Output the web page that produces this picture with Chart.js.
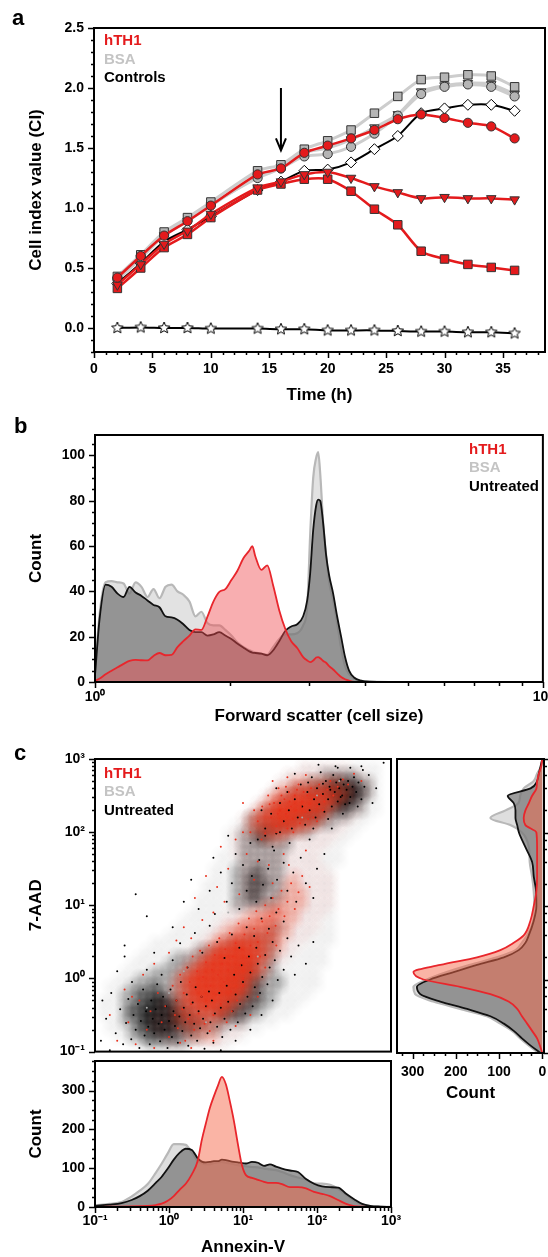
<!DOCTYPE html>
<html>
<head>
<meta charset="utf-8">
<script src="https://cdn.jsdelivr.net/npm/chart.js@4.4.1/dist/chart.umd.min.js"></script>
<style>
  html, body { margin: 0; padding: 0; background: #fff; }
  body { position: relative; width: 548px; height: 1257px; overflow: hidden; }
  canvas { position: absolute; left: 0; }
  .txt { position: absolute; font: bold 15px 'Liberation Sans', Arial, sans-serif; line-height: 18px; white-space: nowrap; }
  .letter { position: absolute; font: bold 22px 'Liberation Sans', Arial, sans-serif; line-height: 24px; }
</style>
</head>
<body>
<canvas id="chartA" width="560" height="410" style="top:0px"></canvas>
<canvas id="chartB" width="560" height="330" style="top:400px"></canvas>
<canvas id="chartDots" width="560" height="330" style="top:740px"></canvas>
<canvas id="chartSide" width="560" height="370" style="top:740px"></canvas>
<canvas id="chartAnx" width="560" height="220" style="top:1040px"></canvas>

<div class="letter" style="left:12px;top:6px">a</div>
<div class="txt" style="left:104px;top:31px;color:#e41a1c">hTH1</div>
<div class="txt" style="left:104px;top:50px;color:#c4c4c4">BSA</div>
<div class="txt" style="left:104px;top:68px;color:#000">Controls</div>

<div class="letter" style="left:14px;top:414px">b</div>
<div class="txt" style="left:469px;top:440px;color:#e41a1c">hTH1</div>
<div class="txt" style="left:469px;top:458px;color:#c4c4c4">BSA</div>
<div class="txt" style="left:469px;top:477px;color:#000">Untreated</div>

<div class="letter" style="left:14px;top:741px">c</div>
<div class="txt" style="left:104px;top:764px;color:#e41a1c">hTH1</div>
<div class="txt" style="left:104px;top:782px;color:#c4c4c4">BSA</div>
<div class="txt" style="left:104px;top:801px;color:#000">Untreated</div>

<script>
// ---------- panel a: cell index over time ----------
const hours = [2, 4, 6, 8, 10, 14, 16, 18, 20, 22, 24, 26, 28, 30, 32, 34, 36];
const hth1Circle = [0.42, 0.60, 0.77, 0.89, 1.02, 1.28, 1.33, 1.46, 1.52, 1.58, 1.65, 1.74, 1.78, 1.75, 1.71, 1.68, 1.58];
const hth1Tri = [0.36, 0.53, 0.70, 0.81, 0.95, 1.17, 1.22, 1.28, 1.30, 1.25, 1.18, 1.13, 1.08, 1.09, 1.08, 1.08, 1.07];
const hth1Square = [0.33, 0.50, 0.67, 0.78, 0.92, 1.15, 1.20, 1.24, 1.24, 1.14, 0.99, 0.86, 0.64, 0.575, 0.53, 0.505, 0.48];
const bsaSquare = [0.43, 0.61, 0.80, 0.92, 1.05, 1.31, 1.36, 1.49, 1.56, 1.65, 1.79, 1.93, 2.07, 2.09, 2.11, 2.10, 2.01];
const bsaCircle = [0.41, 0.59, 0.78, 0.90, 1.03, 1.25, 1.33, 1.43, 1.45, 1.51, 1.62, 1.77, 1.95, 2.01, 2.03, 2.01, 1.93];
const bsaTri = [0.40, 0.58, 0.77, 0.89, 1.02, 1.26, 1.34, 1.46, 1.50, 1.57, 1.67, 1.78, 1.97, 2.02, 2.04, 2.03, 1.95];
const ctrlDiamond = [0.37, 0.54, 0.72, 0.82, 0.93, 1.15, 1.22, 1.31, 1.32, 1.38, 1.49, 1.60, 1.79, 1.83, 1.86, 1.86, 1.81];
const ctrlStar = [0.0, 0.005, 0.0, 0.0, -0.005, -0.005, -0.01, -0.01, -0.02, -0.02, -0.02, -0.025, -0.03, -0.03, -0.035, -0.035, -0.045];
const timeTicks = [0, 5, 10, 15, 20, 25, 30, 35];
const ciTicks = [0, 0.5, 1, 1.5, 2, 2.5];

// ---------- panel b: forward scatter histogram ----------
const fsc = [1.00, 1.024, 1.056, 1.089, 1.123, 1.158, 1.194, 1.232, 1.270, 1.310, 1.351, 1.393, 1.437, 1.482, 1.528, 1.575, 1.625, 1.676, 1.728, 1.782,
  1.838, 1.895, 1.954, 2.016, 2.078, 2.143, 2.211, 2.245, 2.280, 2.351, 2.424, 2.500, 2.578, 2.659, 2.742, 2.828, 2.916, 2.977, 3.023, 3.070,
  3.118, 3.150, 3.183, 3.232, 3.281, 3.333, 3.402, 3.472, 3.544, 3.617, 3.692, 3.788, 3.927, 4.092, 4.533, 6.167, 10.0];
const fscUntreated = [3, 28, 43, 42, 39, 37.5, 42, 39.5, 38, 36, 34, 33, 29, 28.5, 27.5, 25.5, 23, 22, 22, 20.5,
  21, 22, 20.5, 19, 17, 15.2, 13.5, 13, 12.8, 12.5, 11.8, 14, 18, 22.5, 24.5, 25.5, 29, 36, 48, 67,
  78, 80.5, 80, 70, 56, 47, 39, 29, 20, 11, 5, 2, 0.6, 0.1, 0, 0, 0];
const fscBsa = [4, 30, 44, 44.5, 44, 43.5, 39, 44, 42, 37.5, 41, 37, 42, 43, 40, 38.5, 35.5, 29, 31, 26,
  25, 25, 23, 20.5, 17.5, 15.5, 14, 13.5, 13, 12.5, 12, 15.5, 19, 21, 21, 21.5, 25, 33, 65, 90,
  99, 101.5, 92, 70, 56, 44, 36, 26, 15, 7, 3.5, 1.5, 0.5, 0.2, 0, 0, 0];
const fscHth1 = [0.5, 1.5, 3.4, 5, 6.5, 8, 9.3, 9.8, 9.6, 9.5, 11.5, 12.8, 11.8, 12, 15.4, 18, 20.5, 23.2, 23, 28.7,
  35.5, 39.8, 41, 45, 49, 54.5, 58, 60, 55.5, 49.5, 51.5, 42.5, 31.7, 23.5, 18, 15, 11, 9.5, 8.8, 9.5,
  10.8, 11, 10.5, 9.3, 8.5, 7, 5.5, 3.8, 2.2, 1.2, 0.6, 0.1, 0, 0, 0, 0, 0];
const countTicksB = [0, 20, 40, 60, 80, 100];

// ---------- panel c: Annexin-V histogram ----------
const anx = [0.102, 0.158, 0.229, 0.313, 0.402, 0.516, 0.662, 0.798, 0.962, 1.16, 1.398, 1.686, 2.033, 2.451, 2.777, 3.145, 3.563, 4.036, 4.573, 5.18,
  5.868, 6.648, 7.531, 8.531, 9.665, 10.95, 13.2, 15.92, 19.19, 23.14, 27.9, 33.63, 43.16, 55.39, 71.08, 91.24, 117.1, 150.2, 192.9, 247.4,
  317.5, 407.5, 522.9, 714.2, 975.4];
const anxUntreated = [3, 6, 10, 18, 28, 42, 62, 78, 99, 122, 140, 150, 147, 125, 117, 115, 116, 118, 118, 122,
  121, 118, 116, 115, 113, 112, 116, 114, 106, 110, 104, 99, 94, 90, 72, 60, 53, 51, 50, 34, 20, 8, 3, 1, 0.3];
const anxBsa = [4, 8, 13, 27, 42, 59, 88, 112, 138, 162, 162, 160, 140, 118, 113, 110, 110, 113, 115, 116,
  114, 112, 110, 108, 106, 105, 103, 102, 99, 97, 95, 90, 82, 76, 70, 61, 60, 57, 47, 32, 16, 6, 2.5, 1, 0.5];
const anxHth1 = [0.5, 0.7, 1, 1.5, 2, 2.6, 5, 8.5, 16, 28, 45, 60, 84, 120, 173, 215, 255, 285, 312, 335,
  316, 272, 222, 162, 108, 82, 75, 70, 65, 62, 62, 59, 51, 51, 48, 39, 34, 28, 18, 8, 2.5, 0.6, 0, 0, 0];
const countTicksAnx = [0, 100, 200, 300];

// ---------- panel c: 7-AAD histogram (side) ----------
const aad = [1000, 794, 631, 501, 398, 316, 251, 200, 158, 126, 100, 63.1, 39.8, 25.1, 15.8, 10, 6.31, 3.98, 3.16, 2.51,
  2.0, 1.58, 1.26, 1.0, 0.794, 0.631, 0.501, 0.398, 0.316, 0.251, 0.2, 0.158, 0.126, 0.1];
const aadUntreated = [0, 4, 8, 12, 27, 80, 66, 62, 62, 58, 54, 39, 23.5, 19.7, 14.3, 13.6, 19.7, 31.3, 39, 54.5,
  89, 151, 205, 259, 290, 282, 236, 174, 120, 89, 66, 47, 27, 4];
const aadBsa = [0, 2.6, 12, 19.7, 43, 51, 55, 85, 120, 74, 47, 31, 29, 23.5, 19.7, 18.2, 21, 35, 47, 62,
  105, 167, 221, 267, 298, 294, 252, 190, 128, 97, 70, 51, 31, 8];
const aadHth1 = [0, 2.6, 8, 12, 13.6, 23.5, 31, 39, 43, 39, 13.6, 12, 12, 12, 13.6, 19.7, 27.4, 43, 66, 97,
  151, 236, 298, 275, 190, 120, 78, 58, 47, 35, 23.5, 12, 5.5, 0];
const countTicksSide = [0, 100, 200, 300];
const decades = [0.1, 1, 10, 100, 1000];

// ---------- panel c: dot plot ----------
// density of events on a 0.1-decade grid: [log10 7-AAD, first log10 Annexin-V cell, levels 1..5 per cell]
const untreatedDensityRows = [
  [-0.9, -0.5, [1,1,2,2,2,2,2,2,1,1,1,1,1,1]],
  [-0.8, -0.7, [1,1,2,2,3,3,3,3,3,2,2,2,1,1,1,1,1,1]],
  [-0.7, -0.8, [1,1,1,2,3,3,4,4,4,3,3,3,2,2,2,2,1,1,1,1,1]],
  [-0.6, -0.8, [1,1,2,2,3,4,4,4,4,4,3,3,3,2,2,2,2,2,2,1,1,1,1]],
  [-0.5, -0.9, [1,1,1,2,3,3,4,4,4,4,4,3,3,2,2,2,3,3,3,3,2,2,1,1,1,1]],
  [-0.4, -0.9, [1,1,1,2,3,3,4,4,4,4,3,3,2,2,2,2,3,3,3,3,3,2,2,1,1,1,1]],
  [-0.3, -0.9, [1,1,1,2,2,3,3,4,4,3,3,2,2,2,2,2,2,3,3,3,3,3,2,2,1,1,1,1]],
  [-0.2, -0.8, [1,1,2,2,3,3,3,3,2,2,2,2,2,2,2,2,3,3,3,3,3,2,2,1,1,1,1,1]],
  [-0.1, -0.8, [1,1,1,2,2,2,3,2,2,2,2,2,2,2,2,2,3,3,3,3,3,2,2,2,1,1,1,1,1]],
  [0.0, -0.7, [1,1,1,2,2,2,2,2,2,2,2,2,2,2,2,3,3,3,3,3,2,2,2,1,1,1,1,1]],
  [0.1, -0.6, [1,1,1,1,2,2,2,2,2,2,2,2,2,2,2,3,3,3,2,2,2,1,1,1,1,1,1]],
  [0.2, -0.5, [1,1,1,1,1,2,2,2,2,2,2,2,2,2,2,3,3,2,2,2,1,1,1,1,1,1,1]],
  [0.3, -0.4, [1,1,1,1,1,2,2,2,2,2,2,2,2,2,2,2,2,2,2,1,1,1,1,1,1,1]],
  [0.4, -0.3, [1,1,1,1,1,1,1,2,2,2,2,2,2,2,2,2,2,2,1,1,1,1,1,1,1]],
  [0.5, -0.2, [1,1,1,1,1,1,1,1,1,1,2,2,2,2,2,2,2,1,1,1,1,1,1,1,1]],
  [0.6, 0.0, [1,1,1,1,1,1,1,1,1,1,1,2,2,2,2,1,1,1,1,1,1,1,1]],
  [0.7, 0.1, [1,1,1,1,1,1,1,1,1,1,1,1,1,2,2,1,1,1,1,1,1,1]],
  [0.8, 0.2, [1,1,1,1,1,1,1,1,1,1,1,1,1,1,1,1,1,1,1,1,1]],
  [0.9, 0.3, [1,1,1,1,1,1,1,1,1,1,1,1,1,1,1,1,1,1,1,1]],
  [1.0, 0.4, [1,1,1,1,1,2,2,2,2,2,2,1,1,1,1,1,1,1,1]],
  [1.1, 0.4, [1,1,1,1,1,2,2,3,3,2,2,2,1,1,1,1,1,1,1]],
  [1.2, 0.5, [1,1,1,1,2,2,3,3,2,2,2,1,1,1,1,1,1,1]],
  [1.3, 0.5, [1,1,1,1,2,2,3,3,3,2,2,1,1,1,1,1,1,1]],
  [1.4, 0.6, [1,1,1,2,2,3,3,2,2,2,1,1,1,1,1,1,1]],
  [1.5, 0.6, [1,1,1,2,2,2,3,2,2,2,1,1,1,1,1,1,1]],
  [1.6, 0.7, [1,1,1,2,2,2,2,2,2,1,1,1,1,1,1,1,1]],
  [1.7, 0.7, [1,1,1,2,2,2,2,2,2,1,1,1,1,1,1,1,1]],
  [1.8, 0.8, [1,1,2,2,2,2,2,2,2,1,1,1,1,1,1,1]],
  [1.9, 0.8, [1,1,2,2,3,3,2,2,2,1,1,1,1,1,1,1,1]],
  [2.0, 0.8, [1,1,2,2,3,3,3,2,2,2,2,2,1,1,1,1,1,1]],
  [2.1, 0.9, [1,1,2,2,3,3,3,3,2,2,2,2,2,2,1,1,1,1]],
  [2.2, 1.0, [1,2,2,2,2,3,3,3,3,3,3,2,2,2,2,1,1,1]],
  [2.3, 1.1, [1,1,2,2,2,2,3,3,3,3,3,3,3,3,2,2,1,1]],
  [2.4, 1.2, [1,1,1,2,2,2,2,3,3,3,3,4,4,3,2,1,1]],
  [2.5, 1.3, [1,1,1,2,2,2,3,3,3,4,4,4,4,3,2,1]],
  [2.6, 1.4, [1,1,1,2,2,2,3,3,4,4,4,4,3,2,1]],
  [2.7, 1.5, [1,1,1,1,2,2,2,3,3,3,3,2,2,1]],
  [2.8, 1.6, [1,1,1,1,1,2,2,2,2,2,1,1,1]],
  [2.9, 1.8, [1,1,1,1,1,1,1,1,1,1,1]]
];
const hth1DensityRows = [
  [-0.9, 0.0, [1,1,1,1,1,1,1,1]],
  [-0.8, -0.1, [1,1,1,1,2,2,2,2,1,1,1]],
  [-0.7, -0.2, [1,1,1,1,2,2,2,2,2,1,1,1,1]],
  [-0.6, -0.2, [1,1,1,2,2,3,3,3,2,2,1,1,1]],
  [-0.5, -0.2, [1,1,1,2,3,3,3,3,3,3,2,1,1,1]],
  [-0.4, -0.1, [1,1,2,3,3,4,4,4,4,3,2,1,1]],
  [-0.3, -0.1, [1,1,2,3,4,4,5,5,4,4,3,2,1,1]],
  [-0.2, 0.0, [1,2,3,4,5,5,5,5,5,4,3,2,1]],
  [-0.1, 0.0, [1,2,3,4,5,5,5,5,5,5,4,2,1,1]],
  [0.0, 0.1, [2,3,4,5,5,5,5,5,5,4,3,2,1]],
  [0.1, 0.1, [1,2,3,4,5,5,5,5,5,5,4,3,2,1]],
  [0.2, 0.2, [1,2,3,4,5,5,5,5,5,4,3,2,1,1]],
  [0.3, 0.2, [1,1,2,3,4,5,5,5,5,5,4,3,2,1,1]],
  [0.4, 0.3, [1,1,2,3,4,4,5,5,4,4,3,2,2,1,1]],
  [0.5, 0.4, [1,1,2,3,3,4,4,4,4,3,3,2,1,1,1]],
  [0.6, 0.5, [1,1,2,2,3,3,3,3,3,3,2,2,1,1,1]],
  [0.7, 0.6, [1,1,2,2,3,3,3,3,3,2,2,1,1,1,1]],
  [0.8, 0.7, [1,1,1,2,2,3,3,3,2,2,2,1,1,1]],
  [0.9, 0.8, [1,1,1,2,2,2,3,3,2,2,1,1,1,1]],
  [1.0, 0.9, [1,1,1,1,2,2,2,2,2,2,1,1,1,1]],
  [1.1, 1.0, [1,1,1,1,1,2,2,2,2,1,1,1,1]],
  [1.2, 1.0, [1,1,1,1,1,1,2,2,2,1,1,1,1]],
  [1.3, 1.0, [1,1,1,1,1,1,2,2,1,1,1,1,1]],
  [1.4, 1.0, [1,1,1,1,1,1,1,2,1,1,1,1,1]],
  [1.5, 1.0, [1,1,1,1,1,1,1,1,1,1,1,1]],
  [1.6, 1.0, [1,1,1,1,1,1,1,1,1,1,1]],
  [1.7, 0.9, [1,1,1,1,1,1,1,1,1,1,1,1]],
  [1.8, 0.9, [1,1,1,1,1,1,1,1,1,1,1,1,1]],
  [1.9, 0.9, [1,1,1,1,2,2,2,1,1,1,1,1,1,1]],
  [2.0, 0.9, [1,1,2,2,3,3,3,3,2,2,1,1,1,1,1]],
  [2.1, 1.0, [1,2,3,3,4,4,4,4,3,3,2,1,1,1,1]],
  [2.2, 1.0, [1,2,3,4,4,5,5,4,4,3,3,2,1,1,1,1]],
  [2.3, 1.1, [1,2,3,4,5,5,5,5,4,4,3,2,1,1,1,1]],
  [2.4, 1.2, [1,2,3,4,4,5,5,5,4,4,3,2,1,1,1]],
  [2.5, 1.3, [1,2,3,3,4,4,4,4,4,3,3,2,1,1,1]],
  [2.6, 1.4, [1,2,2,3,3,3,3,3,3,2,2,1,1,1]],
  [2.7, 1.5, [1,1,2,2,2,2,2,2,2,1,1,1,1]],
  [2.8, 1.6, [1,1,1,1,1,1,1,1,1,1,1]],
  [2.9, 1.8, [1,1,1,1,1,1,1]]
];
// scattered single events, pairs of [log10 Annexin-V, log10 7-AAD]
const untreatedDotsLog = [
  [-0.85,-0.55],[-0.78,-0.2],[-0.72,-0.75],[-0.66,-0.42],[-0.62,-0.9],[-0.58,-0.61],[-0.55,-0.28],[-0.51,-0.83],[-0.48,-0.5],[-0.45,-0.7],
  [-0.42,-0.35],[-0.4,-0.95],[-0.38,-0.58],[-0.35,-0.15],[-0.33,-0.78],[-0.31,-0.45],[-0.28,-0.66],[-0.26,-0.9],[-0.24,-0.3],[-0.22,-0.55],
  [-0.2,-0.75],[-0.18,-0.42],[-0.16,-0.08],[-0.14,-0.62],[-0.12,-0.86],[-0.1,-0.5],[-0.08,-0.25],[-0.06,-0.7],[-0.04,-0.38],[-0.02,-0.95],
  [0.0,-0.58],[0.02,-0.15],[0.04,-0.8],[0.06,-0.45],[0.08,-0.65],[0.1,-0.3],[0.12,-0.88],[0.14,-0.52],[0.16,-0.05],[0.18,-0.72],
  [0.2,-0.4],[0.22,-0.6],[0.24,-0.22],[0.26,-0.92],[0.28,-0.5],[0.3,-0.78],[0.32,-0.33],[0.34,-0.62],[0.36,-0.12],[0.38,-0.85],
  [0.4,-0.45],[0.42,-0.68],[0.44,-0.25],[0.46,-0.55],[0.48,-0.96],[0.5,-0.38],[0.52,-0.75],[0.54,-0.18],[0.56,-0.6],[0.58,-0.3],
  [0.6,-0.88],[0.62,-0.48],[0.65,-0.66],[0.68,-0.2],[0.7,-0.4],[0.72,-0.8],[0.75,-0.55],[0.78,-0.1],[0.8,-0.32],[0.83,-0.7],
  [0.86,-0.45],[0.88,0.05],[0.9,-0.22],[0.93,-0.6],[0.96,-0.35],[0.98,0.18],[1.0,-0.05],[1.03,-0.48],[1.06,-0.25],[1.08,0.3],
  [1.1,0.08],[1.13,-0.38],[1.16,-0.12],[1.18,0.42],[1.2,0.2],[1.23,-0.2],[1.26,0.02],[1.3,0.32],[1.33,-0.08],[1.36,0.15],
  [1.4,0.5],[1.43,0.25],[1.47,-0.02],[1.5,0.38],[1.55,0.12],[1.6,0.55],[1.65,0.3],[1.7,0.05],[1.75,0.45],[1.85,0.2],
  [1.95,0.5],[-0.7,0.1],[-0.6,0.3],[-0.5,-0.05],[-0.3,0.12],[-0.2,0.35],[-0.1,0.05],[0.05,0.25],[0.15,0.48],[0.25,0.15],
  [0.35,0.62],[0.45,0.35],[0.55,0.72],[0.65,0.5],[0.75,0.28],[0.85,0.6],[0.95,0.42],[1.05,0.7],[1.15,0.58],[1.25,0.82],
  [1.35,0.68],[1.45,0.9],[1.55,0.78],[-0.92,-0.85],[-0.8,-0.98],[0.7,-0.98],[0.9,-0.85],[1.1,-0.7],[1.25,-0.5],[1.4,-0.3],[-0.9,-0.3],
  [0.4,0.95],[0.55,1.2],[0.62,0.88],[0.7,1.45],[0.78,1.05],[0.85,1.3],[0.9,1.7],[0.95,0.95],[1.0,1.55],[1.05,1.2],
  [1.1,1.85],[1.12,1.4],[1.18,1.05],[1.22,1.62],[1.27,1.28],[1.3,1.95],[1.34,1.5],[1.38,1.1],[1.42,1.75],[1.46,1.35],
  [1.5,2.0],[1.55,1.58],[1.6,1.2],[1.63,1.85],[1.68,1.45],[1.72,1.05],[1.78,1.65],[1.85,1.3],[1.9,1.9],[2.0,1.5],
  [0.3,1.35],[-0.45,1.15],[0.05,0.7],[-0.3,0.85],[0.6,1.65],[0.8,1.95],[1.95,1.1],[2.1,1.7],[-0.6,0.45],[0.2,1.05],
  [1.3,2.05],[1.38,2.25],[1.45,1.98],[1.5,2.4],[1.55,2.15],[1.6,2.55],[1.62,2.3],[1.66,2.05],[1.7,2.45],[1.74,2.2],
  [1.78,2.65],[1.8,2.35],[1.84,2.1],[1.87,2.55],[1.9,2.3],[1.93,2.75],[1.96,2.45],[1.98,2.2],[2.0,2.6],[2.03,2.38],
  [2.05,2.82],[2.08,2.52],[2.1,2.28],[2.12,2.7],[2.15,2.45],[2.17,2.62],[2.2,2.35],[2.22,2.78],[2.24,2.55],[2.26,2.68],
  [2.28,2.42],[2.3,2.6],[2.32,2.72],[2.34,2.5],[2.36,2.65],[2.38,2.38],[2.4,2.58],[2.42,2.7],[2.45,2.48],[2.48,2.62],
  [2.5,2.75],[2.53,2.55],[2.56,2.68],[2.6,2.45],[2.64,2.62],[2.7,2.78],[2.02,2.92],[2.25,2.9],[2.45,2.88],[1.45,2.6],
  [1.7,2.8],[1.25,2.3],[2.15,2.18],[2.35,2.25],[1.95,2.05],[2.55,2.35],[2.62,2.85],[2.8,2.6],[2.9,2.95],[2.75,2.4],
  [1.2,1.9],[1.4,1.8],[2.2,2.05],[2.28,2.88],[2.44,2.4],[2.08,2.66],[2.18,2.58],[2.32,2.48],[1.88,2.68],[2.6,2.9]
];
const hth1DotsLog = [
  [-0.7,-0.85],[-0.55,-0.6],[-0.45,-0.9],[-0.4,-0.3],[-0.3,-0.7],[-0.25,-0.45],[-0.2,-0.95],[-0.15,-0.2],[-0.1,-0.6],[-0.05,-0.38],
  [0.0,-0.8],[0.05,-0.1],[0.08,-0.5],[0.1,-0.3],[0.12,-0.68],[0.15,0.05],[0.18,-0.42],[0.2,-0.2],[0.22,-0.85],[0.24,0.15],
  [0.26,-0.55],[0.28,-0.05],[0.3,-0.35],[0.32,0.3],[0.34,-0.7],[0.36,-0.15],[0.38,0.1],[0.4,-0.48],[0.42,0.38],[0.44,-0.25],
  [0.46,0.02],[0.48,-0.62],[0.5,0.22],[0.52,-0.38],[0.54,0.45],[0.56,-0.1],[0.58,0.12],[0.6,-0.5],[0.62,0.32],[0.64,-0.22],
  [0.66,0.05],[0.68,0.55],[0.7,-0.35],[0.72,0.2],[0.74,-0.05],[0.76,0.4],[0.78,-0.6],[0.8,0.12],[0.82,0.62],[0.84,-0.18],
  [0.86,0.3],[0.88,0.02],[0.9,0.48],[0.92,-0.3],[0.94,0.75],[0.96,0.18],[0.98,0.4],[1.0,-0.1],[1.02,0.6],[1.05,0.28],
  [1.08,0.82],[1.1,0.45],[1.12,0.1],[1.15,0.68],[1.18,0.92],[1.2,0.5],[1.23,0.3],[1.26,0.78],[1.3,1.0],[1.33,0.62],
  [1.36,0.85],[1.4,1.1],[1.44,0.72],[1.48,0.95],[1.52,1.2],[1.56,0.85],[1.6,1.05],[1.65,1.3],[1.7,0.95],[1.75,1.18],
  [1.8,1.4],[1.9,1.25],[-0.6,-0.15],[-0.35,0.05],[-0.2,0.2],[0.0,0.35],[0.1,0.52],[0.2,0.7],[0.3,0.55],[0.45,0.8],
  [0.6,0.9],[0.75,1.05],[1.0,0.0],[1.2,-0.25],[0.9,-0.65],[0.6,-0.85],[0.3,-0.95],[1.3,0.15],[1.45,0.45],[-0.8,-0.5],
  [-0.5,-0.25],[0.15,-0.88],[0.55,-0.72],[0.85,-0.45],[1.1,-0.5],
  [0.65,1.25],[0.8,1.5],[0.95,1.15],[1.05,1.7],[1.15,1.35],[1.25,1.9],[1.35,1.55],[1.45,2.0],[1.55,1.7],[1.0,2.0],
  [0.7,1.8],[1.62,1.55],[0.5,1.4],[1.2,1.6],[1.85,1.75],[0.35,1.1],[1.4,1.3],[0.9,1.9],
  [1.2,2.15],[1.26,2.35],[1.3,1.98],[1.34,2.5],[1.38,2.2],[1.42,2.4],[1.45,2.08],[1.48,2.6],[1.5,2.3],[1.53,2.15],
  [1.56,2.45],[1.58,2.25],[1.6,2.05],[1.62,2.55],[1.65,2.35],[1.67,2.18],[1.7,2.5],[1.72,2.3],[1.75,2.65],[1.77,2.12],
  [1.8,2.42],[1.82,2.55],[1.85,2.28],[1.87,2.5],[1.9,2.38],[1.92,2.6],[1.95,2.2],[1.98,2.48],[2.0,2.35],[2.03,2.65],
  [2.06,2.5],[2.1,2.42],[2.14,2.58],[2.18,2.7],[2.22,2.5],[2.28,2.62],[2.35,2.72],[2.42,2.65],[1.1,2.0],[1.15,2.3],
  [1.4,2.7],[1.6,2.75],[1.85,2.78],[2.0,2.15],[1.68,2.0],[1.52,2.5],[1.78,2.35],[1.63,2.42],[1.73,2.58],[1.88,2.18],
  [1.58,2.62],[1.93,2.45],[2.08,2.3],[1.47,2.25],[1.36,2.38],[2.5,2.8],[2.6,2.7],[1.0,2.4]
];
const bsaDotsLog = [
  [0.0,-0.2],[0.5,-0.6],[1.2,0.3],[2.0,2.5],[1.8,2.2],[-0.3,-0.4],[0.8,0.9],[2.3,2.7],[1.5,1.5],[0.2,0.1]
];

// ---------- helpers ----------
const FONT = "'Liberation Sans', Arial, Helvetica, sans-serif";
const tickFont = { family: FONT, size: 14, weight: 'bold' };
const titleFont = { family: FONT, size: 17, weight: 'bold' };
const SUP = { '-1': '10\u207B\u00B9', '0': '10\u2070', '1': '10\u00B9', '2': '10\u00B2', '3': '10\u00B3' };
const powLabel = v => SUP[Math.round(Math.log10(v))];

function range(a, b, step) {
  const out = [];
  for (let i = Math.round(a / step); i <= Math.round(b / step); i++) out.push(Math.round(i * step * 1000) / 1000);
  return out;
}
function logMinors(lo, hi) {
  const out = [];
  for (let d = lo; d < hi; d++) for (let k = 2; k <= 9; k++) out.push(k * Math.pow(10, d));
  return out;
}

function axis(o) {
  return {
    type: o.type || 'linear',
    position: o.position,
    reverse: !!o.reverse,
    min: o.min, max: o.max,
    grid: { display: false, drawTicks: false },
    border: { display: false },
    ticks: {
      display: o.labels !== false, color: '#000', font: tickFont, padding: o.pad || 9,
      maxRotation: 0, autoSkip: false, callback: o.fmt || (v => v)
    },
    title: o.title ? { display: true, text: o.title, color: '#000', font: titleFont, padding: o.titlePad } : { display: false },
    afterBuildTicks: sc => { sc.ticks = o.ticks.map(v => ({ value: v })); },
    afterFit: sc => { if (o.width != null) sc.width = o.width; else sc.height = o.height; }
  };
}

// frame, tick marks and the arrow
function decor(spec) {
  return {
    id: 'decor',
    afterDraw(chart) {
      const { ctx, chartArea: a } = chart;
      ctx.save();
      ctx.strokeStyle = '#000';
      (spec.marks || []).forEach(m => {
        const sc = chart.scales[m.axis];
        ctx.lineWidth = m.w || 1.5;
        m.values.forEach(v => {
          const p = Math.round(sc.getPixelForValue(v)) + 0.5;
          ctx.beginPath();
          if (m.edge === 'bottom') { ctx.moveTo(p, a.bottom); ctx.lineTo(p, a.bottom + m.len); }
          if (m.edge === 'left') { ctx.moveTo(a.left, p); ctx.lineTo(a.left - m.len, p); }
          if (m.edge === 'right') { ctx.moveTo(a.right, p); ctx.lineTo(a.right + m.len, p); }
          ctx.stroke();
        });
      });
      if (spec.arrow) {
        const sx = chart.scales.x, sy = chart.scales.y;
        const x = sx.getPixelForValue(spec.arrow.x);
        const y1 = sy.getPixelForValue(spec.arrow.y1), y2 = sy.getPixelForValue(spec.arrow.y2);
        ctx.lineWidth = 2;
        ctx.beginPath();
        ctx.moveTo(x, y1); ctx.lineTo(x, y2);
        ctx.moveTo(x - 5, y2 - 12); ctx.lineTo(x, y2); ctx.lineTo(x + 5, y2 - 12);
        ctx.stroke();
      }
      ctx.lineWidth = 2;
      ctx.strokeRect(a.left, a.top, a.right - a.left, a.bottom - a.top);
      ctx.restore();
    }
  };
}

function baseOptions(pad, scales, extra) {
  return Object.assign({
    responsive: false, animation: false, events: [],
    layout: { padding: pad },
    plugins: { legend: { display: false }, tooltip: { enabled: false } },
    scales: scales
  }, extra || {});
}

function starImage(r) {
  const c = document.createElement('canvas');
  c.width = c.height = 2 * r + 4;
  const g = c.getContext('2d');
  g.beginPath();
  for (let i = 0; i < 10; i++) {
    const ang = -Math.PI / 2 + i * Math.PI / 5;
    const rr = i % 2 ? r * 0.45 : r;
    g.lineTo(r + 2 + rr * Math.cos(ang), r + 2 + rr * Math.sin(ang));
  }
  g.closePath();
  g.fillStyle = '#fff'; g.fill();
  g.strokeStyle = '#000'; g.lineWidth = 1; g.stroke();
  return c;
}

// soft round spot used to paint one density cell
const LEVEL_ALPHA = [0.035, 0.18, 0.4, 0.65, 0.95];
function spot(rgb, alpha) {
  const c = document.createElement('canvas');
  c.width = c.height = 22;
  const g = c.getContext('2d');
  const grad = g.createRadialGradient(11, 11, 0, 11, 11, 11);
  grad.addColorStop(0, 'rgba(' + rgb + ',' + alpha + ')');
  grad.addColorStop(1, 'rgba(' + rgb + ',0)');
  g.fillStyle = grad;
  g.fillRect(0, 0, 22, 22);
  return c;
}

// ---------- chart a ----------
function ciSeries(vals, o) {
  return {
    data: hours.map((h, i) => ({ x: h, y: vals[i] })),
    borderColor: o.line, borderWidth: o.lw, tension: 0.25, fill: false,
    pointStyle: o.style, pointRadius: o.r, pointRotation: o.rot || 0,
    pointBackgroundColor: o.fill, pointBorderColor: o.edge || '#333', pointBorderWidth: 1
  };
}
const RED = '#e41a1c';
new Chart(document.getElementById('chartA'), {
  type: 'line',
  data: {
    datasets: [
      ciSeries(hth1Circle, { line: RED, lw: 2.5, style: 'circle', r: 4.6, fill: RED }),
      ciSeries(hth1Tri, { line: RED, lw: 2.5, style: 'triangle', r: 5.5, rot: 180, fill: RED }),
      ciSeries(hth1Square, { line: RED, lw: 2.5, style: 'rect', r: 6, fill: RED }),
      ciSeries(ctrlDiamond, { line: '#000', lw: 2, style: 'rectRot', r: 5.5, fill: '#fff', edge: '#000' }),
      ciSeries(ctrlStar, { line: '#000', lw: 2, style: starImage(6), r: 6, fill: '#fff', edge: '#000' }),
      ciSeries(bsaSquare, { line: '#cdcdcd', lw: 3, style: 'rect', r: 6, fill: '#b5b5b5' }),
      ciSeries(bsaCircle, { line: '#cdcdcd', lw: 3, style: 'circle', r: 4.6, fill: '#b5b5b5' }),
      ciSeries(bsaTri, { line: '#cdcdcd', lw: 3, style: 'triangle', r: 5.5, rot: 180, fill: '#b5b5b5' })
    ]
  },
  options: baseOptions({ top: 28, right: 15, left: 0, bottom: 0 }, {
    x: axis({ position: 'bottom', min: 0, max: 38.6, ticks: timeTicks, height: 58, pad: 9,
      title: 'Time (h)', titlePad: { top: 0, bottom: 4 } }),
    y: axis({ position: 'left', min: -0.2, max: 2.5, ticks: ciTicks, width: 94, pad: 10,
      fmt: v => v.toFixed(1), title: 'Cell index value (CI)', titlePad: { top: 26, bottom: 0 } })
  }),
  plugins: [decor({
    marks: [
      { axis: 'x', edge: 'bottom', values: timeTicks, len: 6 },
      { axis: 'x', edge: 'bottom', values: range(1, 38, 1).filter(v => v % 5), len: 3 },
      { axis: 'y', edge: 'left', values: ciTicks, len: 6 },
      { axis: 'y', edge: 'left', values: range(-0.2, 2.4, 0.1).filter(v => Math.abs(v * 2 - Math.round(v * 2)) > 1e-6), len: 3 }
    ],
    arrow: { x: 16, y1: 2.0, y2: 1.48 }
  })]
});

// ---------- histogram helper ----------
function hist(xs, ys, line, fill, lw) {
  return {
    data: xs.map((x, i) => ({ x: x, y: ys[i] })),
    borderColor: line, backgroundColor: fill, borderWidth: lw, fill: 'origin',
    pointRadius: 0, cubicInterpolationMode: 'monotone'
  };
}

// ---------- chart b ----------
new Chart(document.getElementById('chartB'), {
  type: 'line',
  data: {
    datasets: [
      hist(fsc, fscHth1, '#e8262c', 'rgba(240,75,80,0.45)', 1.8),
      hist(fsc, fscUntreated, '#111', 'rgba(115,115,115,0.7)', 1.8),
      hist(fsc, fscBsa, '#b8b8b8', '#e2e2e2', 2.2)
    ]
  },
  options: baseOptions({ top: 35, right: 16, left: 0, bottom: 0 }, {
    x: axis({ type: 'logarithmic', position: 'bottom', min: 1, max: 10, ticks: [1, 10], height: 48, pad: 7,
      fmt: powLabel, title: 'Forward scatter (cell size)', titlePad: { top: 0, bottom: 3 } }),
    y: axis({ position: 'left', min: 0, max: 109, ticks: countTicksB, width: 95, pad: 10,
      title: 'Count', titlePad: { top: 26, bottom: 0 } })
  }),
  plugins: [decor({
    marks: [
      { axis: 'x', edge: 'bottom', values: [1, 10], len: 6 },
      { axis: 'x', edge: 'bottom', values: logMinors(0, 1), len: 4 },
      { axis: 'y', edge: 'left', values: countTicksB, len: 6 },
      { axis: 'y', edge: 'left', values: range(5, 105, 5).filter(v => v % 20), len: 3 }
    ]
  })]
});

// ---------- chart c: dot plot ----------
function dots(pairs, color, r) {
  return {
    data: pairs.map(p => ({ x: Math.pow(10, p[0]), y: Math.pow(10, p[1]) })),
    backgroundColor: color, borderWidth: 0, pointRadius: r, pointStyle: 'circle'
  };
}
function density(rows, rgb) {
  const spots = LEVEL_ALPHA.map(a => spot(rgb, a));
  const cells = [];
  rows.forEach(([ey, ex0, levels]) => levels.forEach((lv, k) => {
    cells.push({ x: Math.pow(10, ex0 + 0.1 * k), y: Math.pow(10, ey), level: lv });
  }));
  return {
    data: cells, pointRadius: 4, borderWidth: 0,
    pointStyle: ctx => spots[(ctx.raw ? ctx.raw.level : 1) - 1]
  };
}
new Chart(document.getElementById('chartDots'), {
  type: 'scatter',
  data: {
    datasets: [
      dots(hth1DotsLog, '#e8321e', 1),
      dots(untreatedDotsLog, '#000', 1),
      dots(bsaDotsLog, '#aaa', 1),
      density(hth1DensityRows, '232,57,31'),
      density(untreatedDensityRows, '0,0,0')
    ]
  },
  options: baseOptions({ top: 19, right: 169, left: 0, bottom: 0 }, {
    x: axis({ type: 'logarithmic', position: 'bottom', min: 0.1, max: 1000, ticks: decades, height: 17, labels: false }),
    y: axis({ type: 'logarithmic', position: 'left', min: 0.1, max: 1000, ticks: decades, width: 95, pad: 10,
      fmt: powLabel, title: '7-AAD', titlePad: { top: 26, bottom: 0 } })
  }),
  plugins: [decor({
    marks: [
      { axis: 'y', edge: 'left', values: decades, len: 6 },
      { axis: 'y', edge: 'left', values: logMinors(-1, 3), len: 3 }
    ]
  })]
});

// ---------- chart c: side 7-AAD histogram ----------
function sideHist(counts, line, fill, lw) {
  return {
    data: aad.map((a, i) => ({ x: counts[i], y: a })),
    borderColor: line, backgroundColor: fill, borderWidth: lw, fill: 'origin',
    pointRadius: 0, cubicInterpolationMode: 'monotone'
  };
}
new Chart(document.getElementById('chartSide'), {
  type: 'line',
  data: {
    datasets: [
      sideHist(aadHth1, '#e8262c', 'rgba(245,105,75,0.5)', 1.8),
      sideHist(aadUntreated, '#111', 'rgba(115,115,115,0.7)', 1.8),
      sideHist(aadBsa, '#b8b8b8', '#dedede', 2.2)
    ]
  },
  options: baseOptions({ top: 19, right: 0, left: 397, bottom: 0 }, {
    x: axis({ position: 'bottom', reverse: true, min: -4, max: 336, ticks: countTicksSide, height: 57, pad: 11,
      title: 'Count', titlePad: { top: 0, bottom: 6 } }),
    y: axis({ type: 'logarithmic', position: 'right', min: 0.1, max: 1000, ticks: decades, width: 16, labels: false })
  }, { indexAxis: 'y' }),
  plugins: [decor({
    marks: [
      { axis: 'x', edge: 'bottom', values: countTicksSide, len: 6 },
      { axis: 'x', edge: 'bottom', values: range(25, 325, 25).filter(v => v % 100), len: 3 },
      { axis: 'y', edge: 'right', values: decades, len: 5 },
      { axis: 'y', edge: 'right', values: logMinors(-1, 3).filter((v, i) => i % 2 === 0), len: 3 }
    ]
  })]
});

// ---------- chart c: Annexin-V histogram ----------
new Chart(document.getElementById('chartAnx'), {
  type: 'line',
  data: {
    datasets: [
      hist(anx, anxHth1, '#e8262c', 'rgba(245,105,75,0.5)', 1.8),
      hist(anx, anxUntreated, '#111', 'rgba(115,115,115,0.7)', 1.8),
      hist(anx, anxBsa, '#b8b8b8', '#dedede', 2.2)
    ]
  },
  options: baseOptions({ top: 21, right: 169, left: 0, bottom: 0 }, {
    x: axis({ type: 'logarithmic', position: 'bottom', min: 0.1, max: 1000, ticks: decades, height: 53, pad: 6,
      fmt: powLabel, title: 'Annexin-V', titlePad: { top: 0, bottom: 2 } }),
    y: axis({ position: 'left', min: 0, max: 376, ticks: countTicksAnx, width: 95, pad: 10,
      title: 'Count', titlePad: { top: 26, bottom: 0 } })
  }),
  plugins: [decor({
    marks: [
      { axis: 'x', edge: 'bottom', values: decades, len: 6 },
      { axis: 'x', edge: 'bottom', values: logMinors(-1, 3), len: 4 },
      { axis: 'y', edge: 'left', values: countTicksAnx, len: 6 },
      { axis: 'y', edge: 'left', values: range(25, 375, 25).filter(v => v % 100), len: 3 }
    ]
  })]
});
</script>
</body>
</html>
